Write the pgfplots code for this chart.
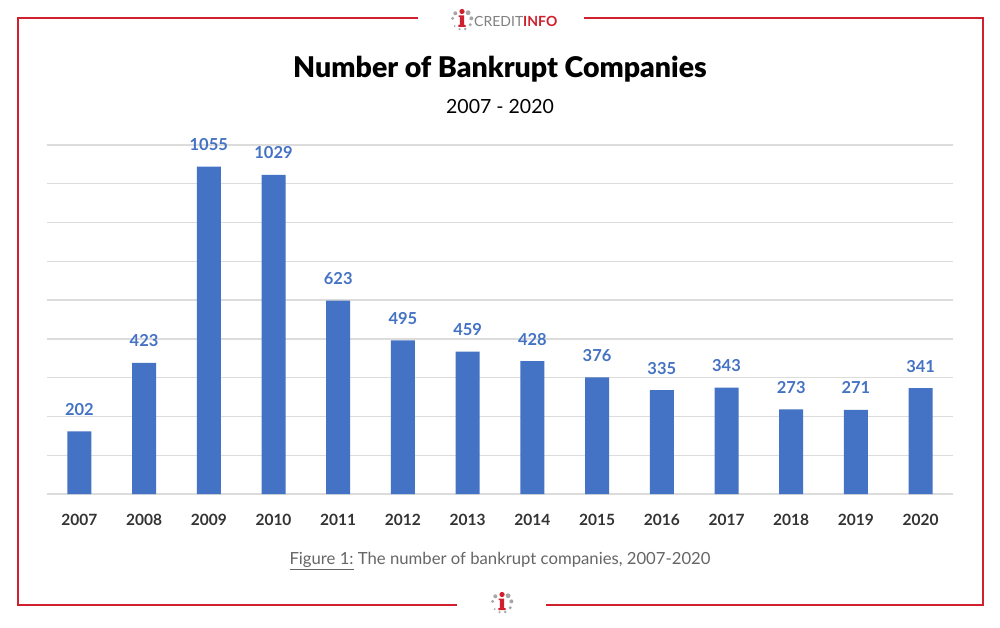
\documentclass[border=0pt]{standalone}
\usepackage{pgfplots}
\pgfplotsset{compat=1.18}
\usepackage{fontspec}
\setmainfont{Lato}
\newfontfamily\titlefont{Lato Black}
\definecolor{barblue}{HTML}{4472C4}
\definecolor{framered}{HTML}{D0202E}
\definecolor{gridgray}{HTML}{DCDCDC}
\definecolor{yeargray}{HTML}{333333}
\definecolor{capgray}{HTML}{666666}
\definecolor{logogray}{HTML}{A6A6A6}
\pgfplotstableread{
x year val
0 2007 202
1 2008 423
2 2009 1055
3 2010 1029
4 2011 623
5 2012 495
6 2013 459
7 2014 428
8 2015 376
9 2016 335
10 2017 343
11 2018 273
12 2019 271
13 2020 341
}\datatable
\newcommand{\logoicon}[1]{%
  \begin{scope}[shift={#1}]
    \fill[framered] (0,8.5) circle (2.6);
    \foreach \a/\r in {50/2.4,10/2.0,-30/1.7,-70/1.4,-105/1.2,-140/1.0,170/1.6,135/2.0}{
      \fill[logogray] (\a:9.5) circle (\r);
    }
    \fill[framered] (-2.2,4.5) -- (2.2,4.5) -- (2.2,-5) -- (3.6,-5) -- (3.6,-7) -- (-3.6,-7) -- (-3.6,-5) -- (-2.2,-5) -- (-2.2,3) -- (-3.4,3) -- (-3.4,4.5) -- cycle;
  \end{scope}}
\begin{document}
\begin{tikzpicture}[x=1pt,y=1pt]
\path[fill=white,use as bounding box] (0,0) rectangle (1000,627);
% frame
\draw[framered,line width=2pt] (418,609) -- (18,609) -- (18,22) -- (457,22);
\draw[framered,line width=2pt] (584,609) -- (983,609) -- (983,22) -- (546,22);
% logo top
\logoicon{(462,607)}
\node[anchor=west,inner sep=0pt] at (474,606) {\fontsize{14}{14}\selectfont\textcolor{gray}{CREDIT}\textcolor{framered}{\bfseries INFO}};
% logo bottom
\logoicon{(502,24)}
% title
\node at (500,558) {\fontsize{28.5}{28.5}\selectfont\titlefont Number of Bankrupt Companies};
\node at (500,520) {\fontsize{19.5}{19.5}\selectfont 2007 - 2020};
\begin{axis}[
  at={(47pt,133pt)}, anchor=south west,
  width=906pt, height=349pt, scale only axis,
  xmin=-0.5, xmax=13.5, ymin=0, ymax=1125,
  ytick={0,125,...,1125}, yticklabels={},
  ymajorgrids, grid style={gridgray,line width=1.4pt},
  axis line style={draw=none},
  major tick length=0,
  xtick=data,
  xticklabels from table={\datatable}{year},
  xticklabel style={font=\fontsize{15.5}{15.5}\selectfont\bfseries, text=yeargray, yshift=-17pt},
  ybar, bar width=24pt,
  nodes near coords={\pgfmathprintnumber[assume math mode=true,1000 sep={}]{\pgfplotspointmeta}},
  every node near coord/.append style={font=\fontsize{16.5}{16.5}\selectfont\bfseries, text=barblue, anchor=base, yshift=16pt},
]
\addplot[fill=barblue, draw=none] table[x=x,y=val]{\datatable};
\end{axis}
\node at (500,66) {\fontsize{16.7}{16.7}\selectfont\color{capgray}\underline{Figure 1:} The number of bankrupt companies, 2007-2020};
\end{tikzpicture}
\end{document}
